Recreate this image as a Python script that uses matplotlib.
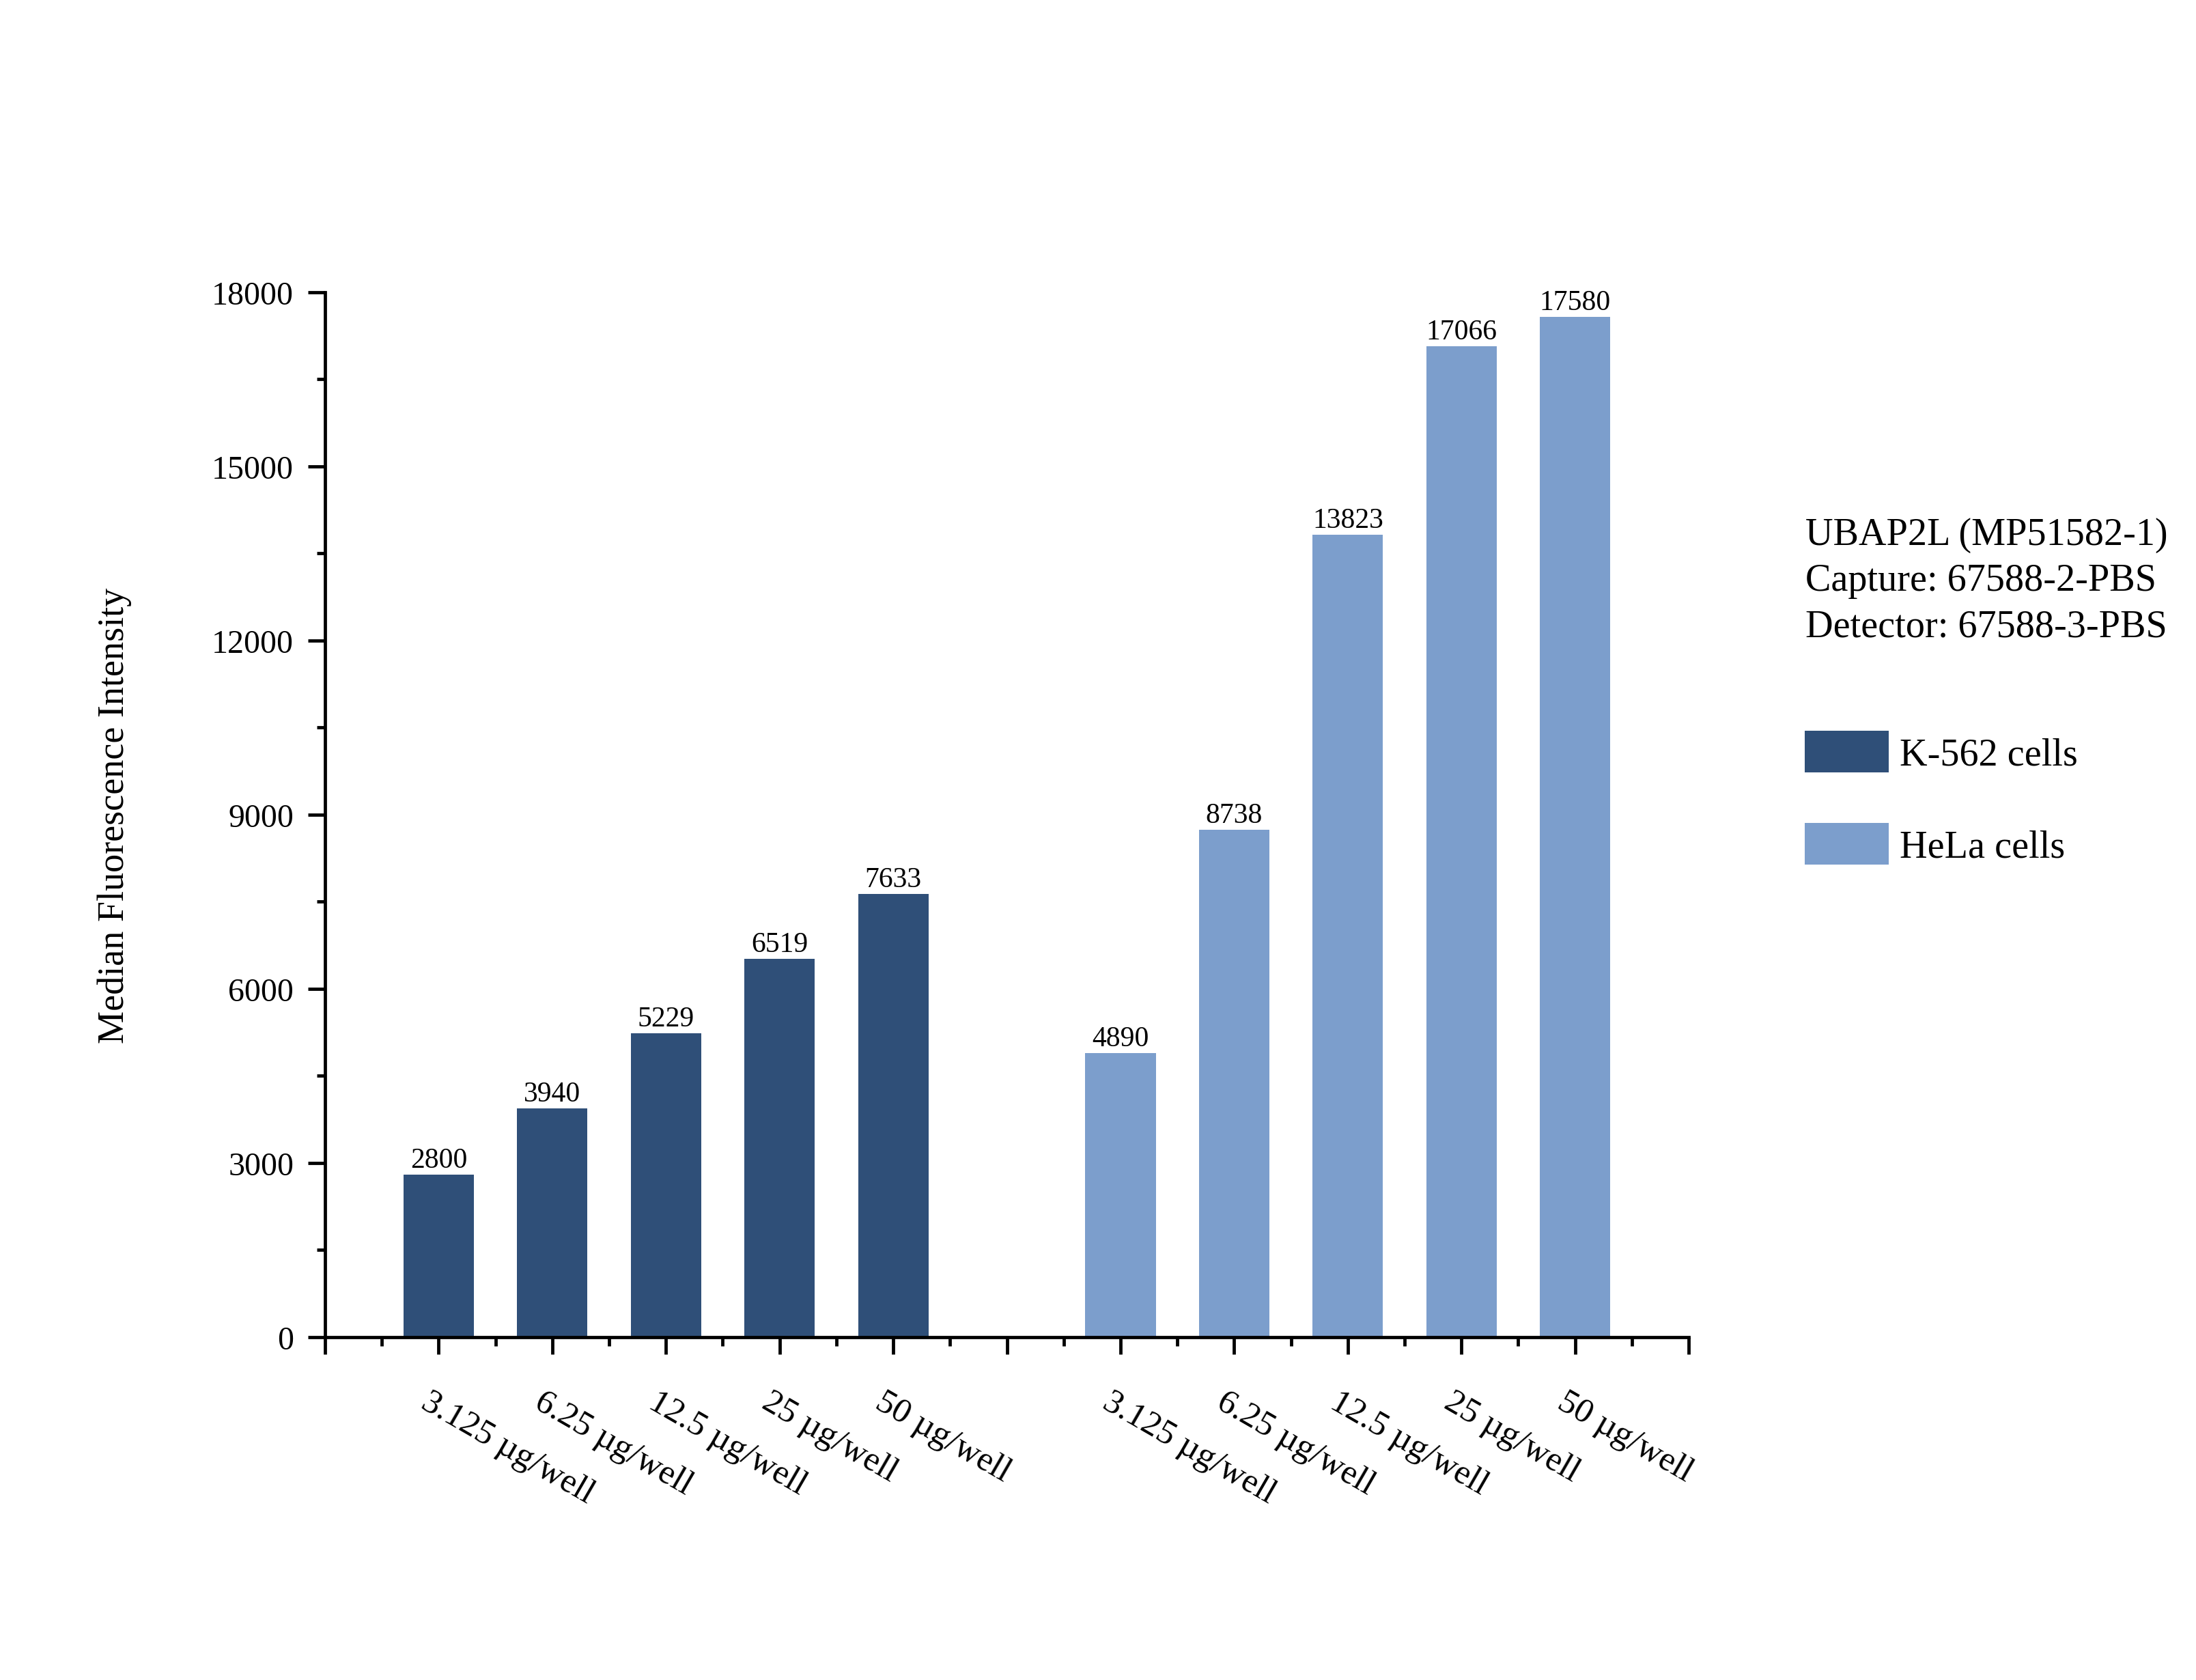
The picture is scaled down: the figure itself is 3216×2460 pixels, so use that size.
import matplotlib
matplotlib.use("Agg")
import matplotlib.pyplot as plt
import matplotlib.transforms as mtransforms
import numpy as np

doses = ["3.125 µg/well", "6.25 µg/well", "12.5 µg/well", "25 µg/well", "50 µg/well"]
k562_values = [2800, 3940, 5229, 6519, 7633]
hela_values = [4890, 8738, 13823, 17066, 17580]
series_names = ["K-562 cells", "HeLa cells"]
series_colors = ["#2F4F78", "#7C9ECC"]
info_lines = ["UBAP2L (MP51582-1)", "Capture: 67588-2-PBS", "Detector: 67588-3-PBS"]

plt.rcParams['font.family'] = ['Liberation Serif', 'DejaVu Serif']

fig = plt.figure(figsize=(10.72, 8.2033), dpi=300)
ax = fig.add_axes([0.1480, 0.2040, 0.6210, 0.6217])

x_k = np.arange(1, len(doses) + 1)
x_h = x_k + len(doses) + 1
bar_w = 0.62

bars_k = ax.bar(x_k, k562_values, width=bar_w, color=series_colors[0], label=series_names[0])
bars_h = ax.bar(x_h, hela_values, width=bar_w, color=series_colors[1], label=series_names[1])

for bars, vals in [(bars_k, k562_values), (bars_h, hela_values)]:
    for b, v in zip(bars, vals):
        ax.annotate(f"{v}", (b.get_x() + b.get_width() / 2, v), xytext=(0, 0.5),
                    textcoords="offset points", ha="center", va="bottom", fontsize=10)

ax.set_xlim(0, 2 * len(doses) + 2)
ax.set_ylim(0, 18000)

ax.set_yticks(np.arange(0, 18001, 3000))
ax.set_yticks(np.arange(0, 18001, 1500), minor=True)
ax.set_xticks(np.arange(0, 2 * len(doses) + 3))
ax.set_xticks(np.arange(0.5, 2 * len(doses) + 2, 1), minor=True)
ax.set_xticklabels([""] + doses + [""] + doses + [""])

for s in ["top", "right"]:
    ax.spines[s].set_visible(False)
for s in ["left", "bottom"]:
    ax.spines[s].set_linewidth(1.15)

ax.tick_params(axis="both", which="major", length=6, width=1.15, direction="out")
ax.tick_params(axis="both", which="minor", length=3, width=1.15, direction="out")
ax.tick_params(axis="y", labelsize=11.5, pad=5)
ax.tick_params(axis="x", labelsize=12.2, pad=11)

offset = mtransforms.ScaledTranslation(-2.5 / 72, 0, fig.dpi_scale_trans)
for lbl in ax.get_xticklabels():
    lbl.set_rotation(-30)
    lbl.set_ha("left")
    lbl.set_va("top")
    lbl.set_rotation_mode("anchor")
    lbl.set_transform(lbl.get_transform() + offset)

ax.set_ylabel("Median Fluorescence Intensity", fontsize=13)
ax.yaxis.set_label_coords(-0.1415, 0.5)

fig.text(2644 / 3216, 1 - 851 / 2461, "\n".join(info_lines), fontsize=13.5,
         ha="left", va="center", linespacing=1.38)

ax.legend(handles=[bars_k, bars_h], loc="upper left",
          bbox_to_anchor=(2643 / 3216, 1 - 1071 / 2461), bbox_transform=fig.transFigure,
          frameon=False, fontsize=13.5, handlelength=2.18, handleheight=1.3,
          labelspacing=1.3, handletextpad=0.3, borderpad=0, borderaxespad=0)

fig.savefig("out.png", dpi=300, facecolor="white")
